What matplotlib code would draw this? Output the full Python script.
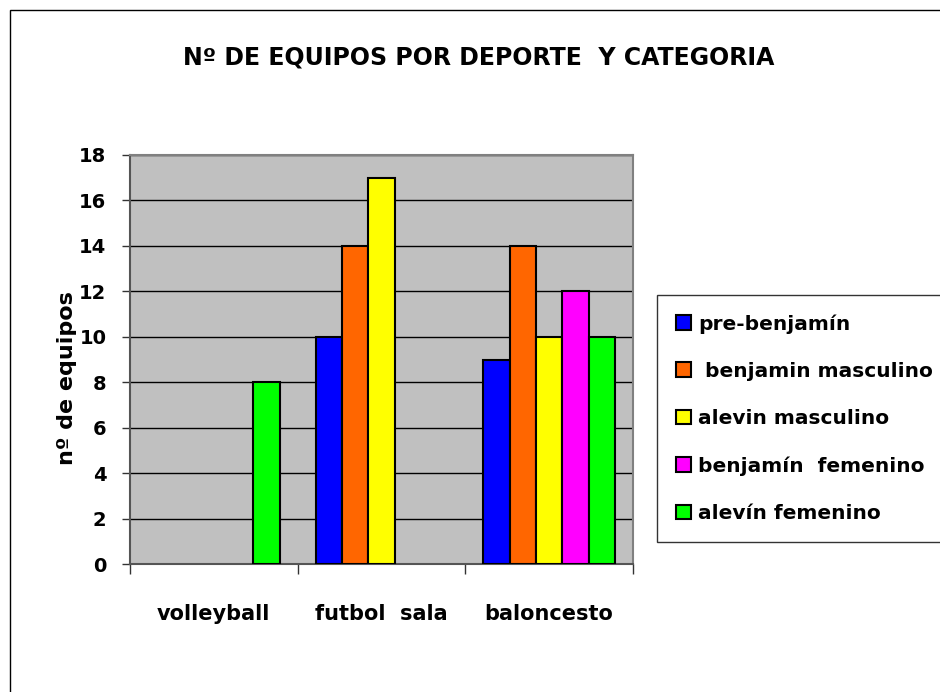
import matplotlib
matplotlib.use('Agg')
import matplotlib.pyplot as plt
import numpy as np
from matplotlib.patches import Rectangle

# data
deportes = ['volleyball', 'futbol  sala', 'baloncesto']
categorias = ['pre-benjamín', ' benjamin masculino', 'alevin masculino', 'benjamín  femenino', 'alevín femenino']
pre_benjamin = [np.nan, 10, 9]
benjamin_masc = [np.nan, 14, 14]
alevin_masc = [np.nan, 17, 10]
benjamin_fem = [np.nan, np.nan, 12]
alevin_fem = [8, np.nan, 10]
colores = ['#0000FF', '#FF6600', '#FFFF00', '#FF00FF', '#00FF00']

series = [pre_benjamin, benjamin_masc, alevin_masc, benjamin_fem, alevin_fem]

plt.rcParams['font.family'] = 'DejaVu Sans'
plt.rcParams['font.weight'] = 'bold'

fig = plt.figure(figsize=(9.4, 6.92), dpi=100)
ax = fig.add_axes([130 / 940, 128 / 692, 503 / 940, 409 / 692])
ax.set_facecolor('#C0C0C0')

gap = 0.1065
width = (1 - 2 * gap) / len(series)
x = np.arange(len(deportes))
for i, (vals, col, lab) in enumerate(zip(series, colores, categorias)):
    ax.bar(x + gap + i * width, vals, width=width, align='edge', color=col,
           edgecolor='black', linewidth=1.5, label=lab, zorder=3)

ax.set_xlim(0, 3)
ax.set_ylim(0, 18)
ax.set_yticks(range(0, 19, 2))
ax.yaxis.grid(True, color='black', linewidth=1)
ax.set_axisbelow(True)

ax.set_xticks([0, 1, 2, 3])
ax.set_xticklabels([])
ax.set_xticks(x + 0.5, minor=True)
ax.set_xticklabels(deportes, minor=True, fontsize=15, fontweight='bold')
ax.tick_params(axis='x', which='minor', length=0, pad=29)
ax.tick_params(axis='x', which='major', length=7, width=1, color='#333333')
ax.tick_params(axis='y', length=6, width=1, color='#333333', labelsize=14, pad=11)

for s in ['top', 'right']:
    ax.spines[s].set_color('#808080')
    ax.spines[s].set_linewidth(1.5)
for s in ['left', 'bottom']:
    ax.spines[s].set_color('#555555')
    ax.spines[s].set_linewidth(1.5)

ax.set_ylabel('nº de equipos', fontsize=16, fontweight='bold')
ax.yaxis.set_label_coords(-0.105, 0.455)

fig.text(0.509, 1 - 57 / 692, 'Nº DE EQUIPOS POR DEPORTE  Y CATEGORIA',
         ha='center', va='center', fontsize=17, fontweight='bold')

leg = fig.legend(loc='upper left', bbox_to_anchor=(657 / 940, 1 - 295 / 692),
                 fontsize=14.5, frameon=True, fancybox=False, edgecolor='black',
                 handlelength=0.75, handleheight=0.75, handletextpad=0.35,
                 labelspacing=1.4, borderpad=0.95, borderaxespad=0)
leg.get_frame().set_linewidth(1)

# outer chart border
fig.patches.append(Rectangle((10 / 940, -0.1), 1.0, 1 - 10 / 692 + 0.1,
                             transform=fig.transFigure, fill=False,
                             edgecolor='black', linewidth=1))

fig.savefig('out.png', dpi=100)
